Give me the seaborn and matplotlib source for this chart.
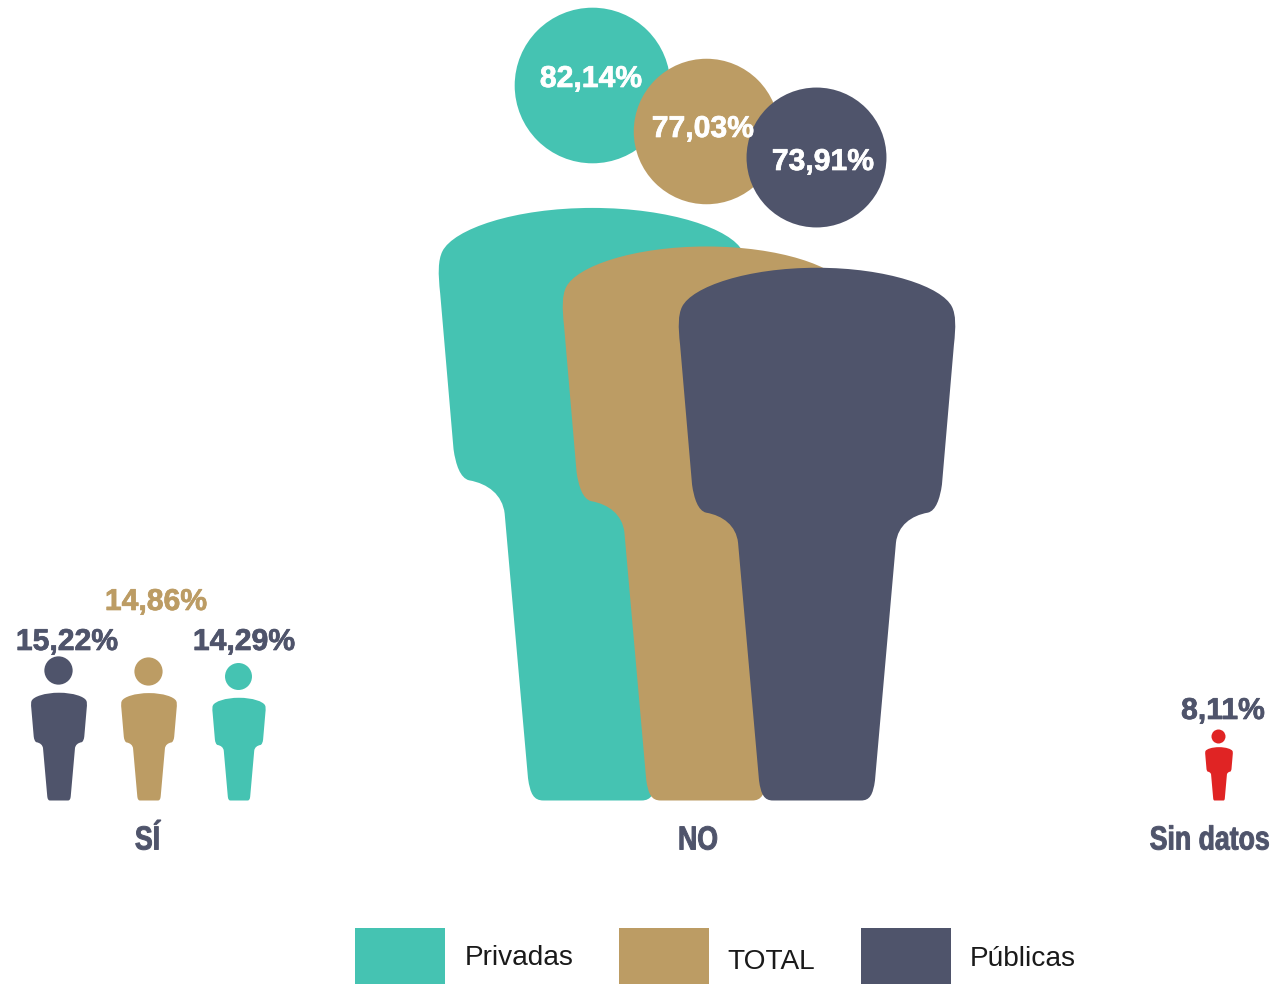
import pandas as pd
import numpy as np
import matplotlib
matplotlib.use("Agg")
import matplotlib.pyplot as plt
import matplotlib.patheffects as pe
import seaborn as sns
from matplotlib.path import Path
from matplotlib.patches import PathPatch, Rectangle
from matplotlib.transforms import Affine2D

# datos
tipos = ['Públicas', 'TOTAL', 'Privadas', 'Privadas', 'TOTAL', 'Públicas', 'Sin datos']
grupos = ['SÍ', 'SÍ', 'SÍ', 'NO', 'NO', 'NO', 'Sin datos']
etiquetas = ['15,22%', '14,86%', '14,29%', '82,14%', '77,03%', '73,91%', '8,11%']
# altura de cada figura
alturas = [14.95, 14.9, 14.25, 82.2, 76.85, 73.9, 7.4]

leyenda = ['Privadas', 'TOTAL', 'Públicas']

colores = {'Privadas': '#45C3B2', 'TOTAL': '#BC9C64', 'Públicas': '#4F546B', 'Sin datos': '#E02424'}
OSCURO = '#4F546B'

# layout en pixeles de la imagen
ESCALA = 9.63
BASE_Y = 800.5
centros_px = [59, 149, 239, 592.5, 706.5, 817, 1219]
etiqueta_xy = [(67, 642), (156, 602), (244, 642), (591, 79), (703, 129), (823, 162), (1223, 711)]
grupo_xy = {'SÍ': (160, 841), 'NO': (718, 841), 'Sin datos': (1270, 841)}
leyenda_x = [355, 619, 861]
leyenda_tx = [(465, 958), (727, 962), (970, 959)]

sns.set_theme(style='white')
plt.rcParams['font.family'] = ['Liberation Sans', 'DejaVu Sans']

fig = plt.figure(figsize=(12.77, 9.84), dpi=100)
ax = fig.add_axes([0, 0, 1, 1])


def px(x, y):
    return x / ESCALA, (BASE_Y - y) / ESCALA


# no hay fuente condensada instalada: se estrecha el texto al dibujarlo
class Estrecho(pe.AbstractPathEffect):
    def __init__(self, ancla, factor, color):
        super().__init__()
        self.ancla = ancla
        self.factor = factor
        self.color = color

    def draw_path(self, renderer, gc, tpath, affine, rgbFace=None):
        a = affine + Affine2D().translate(-self.ancla, 0).scale(self.factor, 1).translate(self.ancla, 0)
        gc0 = renderer.new_gc()
        gc0.copy_properties(gc)
        gc0.set_foreground(self.color)
        gc0.set_linewidth(0.7)
        renderer.draw_path(gc0, tpath, a, rgbFace)
        gc0.restore()


# silueta del cuerpo, mitad derecha, para una figura de alto 712
lado = [
    (Path.LINETO, (44, 0)),
    (Path.CURVE4, (53, 0)), (Path.CURVE4, (56, 6)), (Path.CURVE4, (58, 20)),
    (Path.LINETO, (79, 258)),
    (Path.CURVE4, (81, 275)), (Path.CURVE4, (94, 285)), (Path.CURVE4, (111, 288)),
    (Path.CURVE4, (119, 290)), (Path.CURVE4, (123, 302)), (Path.CURVE4, (125, 316)),
    (Path.LINETO, (137, 456)),
    (Path.CURVE4, (139, 474)), (Path.CURVE4, (139, 486)), (Path.CURVE4, (135, 494)),
    (Path.CURVE4, (125, 514)), (Path.CURVE4, (70, 533)), (Path.CURVE4, (0, 533)),
]


def cuerpo(cx, alto):
    k = alto / 712
    der = [(c, (cx + p[0] * k, p[1] * k)) for c, p in lado]
    verts = [(cx, 0)] + [p for c, p in der]
    codes = [Path.MOVETO] + [c for c, p in der]
    # espejo: se recorre al reves
    pts = [(cx, 0)] + [p for c, p in der]
    for i in range(len(der) - 1, -1, -1):
        verts.append((2 * cx - pts[i][0], pts[i][1]))
        codes.append(der[i][0])
    return Path(verts, codes)


df = pd.DataFrame({'tipo': tipos, 'grupo': grupos, 'etiqueta': etiquetas, 'alto': alturas, 'cx': np.array(centros_px) / ESCALA})
df['cabeza_y'] = df['alto'] * 0.904
df['color'] = [colores['Sin datos'] if g == 'Sin datos' else colores[t] for t, g in zip(tipos, grupos)]

for i, fila in df.iterrows():
    z = 2 + i
    ax.add_patch(PathPatch(cuerpo(fila['cx'], fila['alto']), facecolor=fila['color'], edgecolor='none', zorder=z))
    # cabeza: diametro en puntos para scatter
    diam = 2 * 0.0983 * fila['alto'] * ESCALA * 72 / 100
    sns.scatterplot(x=[fila['cx'] - 0.7 / ESCALA], y=[fila['cabeza_y']], s=diam ** 2, color=fila['color'], linewidth=0, ax=ax, zorder=z, legend=False)

ax.set_xlim(0, 1277 / ESCALA)
ax.set_ylim((BASE_Y - 984) / ESCALA, BASE_Y / ESCALA)
ax.set_xlabel('')
ax.set_ylabel('')
ax.axis('off')

# porcentajes
for i, (et, xy) in enumerate(zip(etiquetas, etiqueta_xy)):
    if i >= 3 and i < 6:
        c = 'white'
    elif i == 1:
        c = colores['TOTAL']
    else:
        c = OSCURO
    x, y = px(*xy)
    t = ax.text(x, y, et, color=c, fontsize=21.7, fontweight='bold', ha='center', va='center', zorder=20)
    t.set_path_effects([pe.withStroke(linewidth=0.5, foreground=c)])

# grupos
for g, xy in grupo_xy.items():
    x, y = px(*xy)
    t = ax.text(x, y, g, color=OSCURO, fontsize=24, fontweight='bold', ha='right', va='center', zorder=20)
    t.set_path_effects([Estrecho(xy[0], 0.8, OSCURO)])

# leyenda
for nombre, lx, txy in zip(leyenda, leyenda_x, leyenda_tx):
    x0, y0 = px(lx, 984)
    ax.add_patch(Rectangle((x0, y0), 90 / ESCALA, 56 / ESCALA, facecolor=colores[nombre], edgecolor='none', clip_on=False))
    x, y = px(*txy)
    ax.text(x, y, nombre, color='#1a1a1a', fontsize=20.2, ha='left', va='center')

fig.savefig('out.png', dpi=100)
